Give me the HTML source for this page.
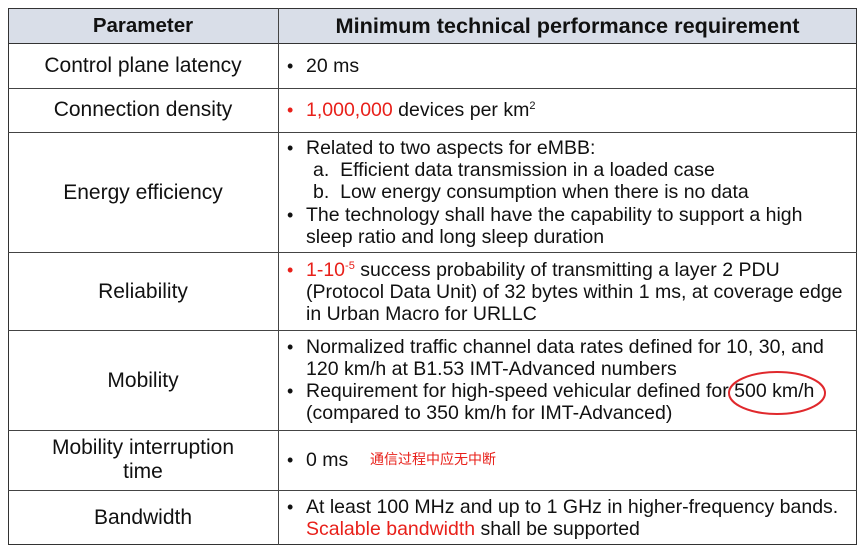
<!DOCTYPE html>
<html><head><meta charset="utf-8"><style>
body{margin:0;width:862px;height:550px;background:#fff;position:relative;overflow:hidden;font-family:"Liberation Sans","Noto Sans CJK SC",sans-serif;color:#111}
.c{position:absolute;border:1px solid #444;box-sizing:border-box}
.l{position:absolute;white-space:nowrap;font-size:19.5px;line-height:22px}
.p{position:absolute;left:8px;width:270px;text-align:center;font-size:21px;line-height:24px}
.r{color:#e8201a}
.b{position:absolute;left:287px;font-size:18px;line-height:22px}
sup{font-size:11px;vertical-align:7px;line-height:0}
</style></head><body>
<div class="c" style="left:8px;top:8px;width:849px;height:537px;border:1.5px solid #333"></div>
<div class="c" style="left:8px;top:8px;width:849px;height:36px;background:#d9dee8;border:1.5px solid #333"></div>
<div class="c" style="left:278px;top:8px;width:0;height:537px;border-width:0 0 0 1px"></div>
<div>
<div class="c" style="left:8px;top:88px;width:849px;height:0;border-width:1px 0 0 0"></div>
<div class="c" style="left:8px;top:132px;width:849px;height:0;border-width:1px 0 0 0"></div>
<div class="c" style="left:8px;top:252px;width:849px;height:0;border-width:1px 0 0 0"></div>
<div class="c" style="left:8px;top:330px;width:849px;height:0;border-width:1px 0 0 0"></div>
<div class="c" style="left:8px;top:430px;width:849px;height:0;border-width:1px 0 0 0"></div>
<div class="c" style="left:8px;top:490px;width:849px;height:0;border-width:1px 0 0 0"></div>
</div>
<div class="p" style="top:14px;font-weight:bold;font-size:20.5px">Parameter</div>
<div class="l" style="left:278px;width:579px;text-align:center;top:14px;font-weight:bold;font-size:21.7px;line-height:24px">Minimum technical performance requirement</div>

<div class="p" style="top:54px">Control plane latency</div>
<div class="b" style="top:55px">•</div><div class="l" style="left:306px;top:55px">20 ms</div>

<div class="p" style="top:98px">Connection density</div>
<div class="b r" style="top:99px">•</div><div class="l" style="left:306px;top:99px"><span class="r">1,000,000</span> devices per km<sup>2</sup></div>

<div class="p" style="top:181px">Energy efficiency</div>
<div class="b" style="top:137px">•</div>
<div class="l" style="left:306px;top:137px">Related to two aspects for eMBB:</div>
<div class="l" style="left:313px;top:159px">a.&nbsp; Efficient data transmission in a loaded case</div>
<div class="l" style="left:313px;top:181px">b.&nbsp; Low energy consumption when there is no data</div>
<div class="b" style="top:204px">•</div>
<div class="l" style="left:306px;top:204px">The technology shall have the capability to support a high</div>
<div class="l" style="left:306px;top:226px">sleep ratio and long sleep duration</div>

<div class="p" style="top:280px">Reliability</div>
<div class="b r" style="top:259px">•</div>
<div class="l" style="left:306px;top:259px"><span class="r">1-10<sup>-5</sup></span> success probability of transmitting a layer 2 PDU</div>
<div class="l" style="left:306px;top:281px">(Protocol Data Unit) of 32 bytes within 1 ms, at coverage edge</div>
<div class="l" style="left:306px;top:303px">in Urban Macro for URLLC</div>

<div class="p" style="top:369px">Mobility</div>
<div class="b" style="top:336px">•</div>
<div class="l" style="left:306px;top:336px">Normalized traffic channel data rates defined for 10, 30, and</div>
<div class="l" style="left:306px;top:358px">120 km/h at B1.53 IMT-Advanced numbers</div>
<div class="b" style="top:380px">•</div>
<div class="l" style="left:306px;top:380px">Requirement for high-speed vehicular defined for 500 km/h</div>
<div class="l" style="left:306px;top:402px">(compared to 350 km/h for IMT-Advanced)</div>
<svg style="position:absolute;left:0;top:0" width="862" height="550"><ellipse cx="777" cy="393" rx="48" ry="21" fill="none" stroke="#e0282c" stroke-width="2"/></svg>

<div class="p" style="top:436px;line-height:24px">Mobility interruption<br>time</div>
<div class="b" style="top:449px">•</div>
<div class="l" style="left:306px;top:449px">0 ms</div>
<div class="l r" style="left:370px;top:448px;font-size:14px;font-family:'Noto Sans CJK SC',sans-serif">通信过程中应无中断</div>

<div class="p" style="top:506px">Bandwidth</div>
<div class="b" style="top:496px">•</div>
<div class="l" style="left:306px;top:496px">At least 100 MHz and up to 1 GHz in higher-frequency bands.</div>
<div class="l" style="left:306px;top:518px"><span class="r">Scalable bandwidth</span> shall be supported</div>
</body></html>
